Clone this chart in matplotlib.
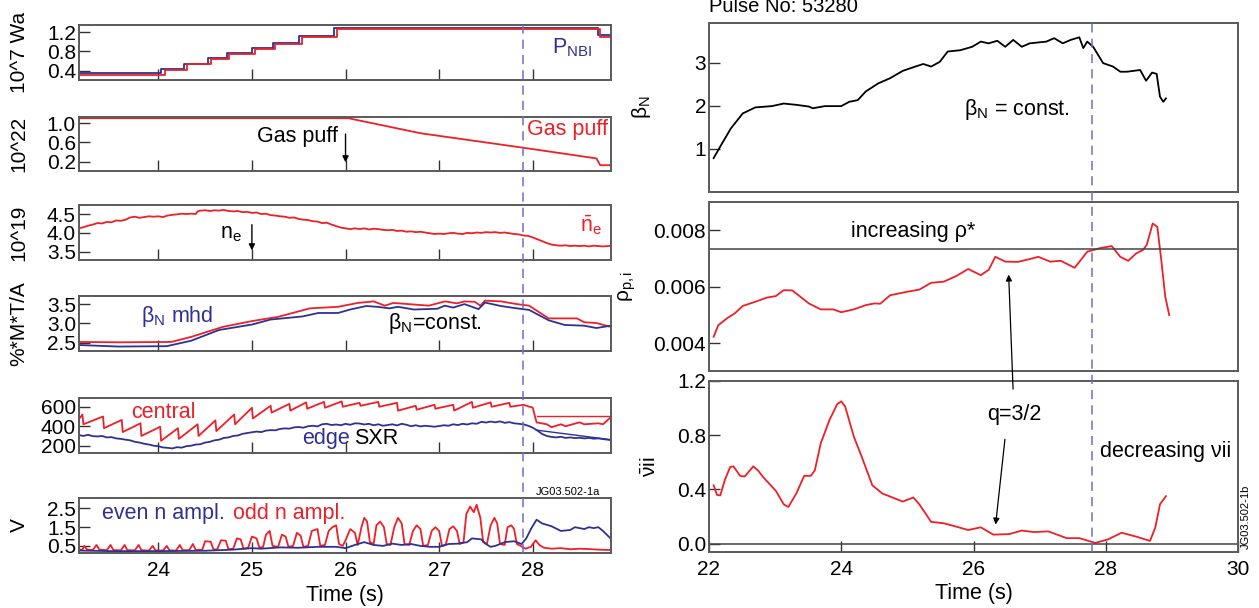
import matplotlib
matplotlib.use("Agg")
import matplotlib.pyplot as plt

plt.rcParams['font.family'] = ['Liberation Sans', 'DejaVu Sans']
plt.rcParams['mathtext.fontset'] = 'custom'
plt.rcParams['mathtext.rm'] = 'Liberation Sans'
plt.rcParams['mathtext.it'] = 'Liberation Sans:italic'

RED = '#ee1f26'
BLUE = '#2e3192'
DASH = '#6a70c8'
SPINE = '#5a5a5a'

# ---- left column: pulse 53280 time traces ----
# NBI power (10^7 W), step waveforms
pnbi_red_t = [23.15, 24.07, 24.31, 24.56, 24.76, 25.03, 25.25, 25.54, 25.91, 28.72, 28.83]
pnbi_red = [0.31, 0.41, 0.53, 0.64, 0.75, 0.85, 0.95, 1.10, 1.27, 1.10, 1.10]
pnbi_blue_t = [23.15, 24.03, 24.28, 24.53, 24.73, 25.00, 25.22, 25.50, 25.88, 28.70, 28.83]
pnbi_blue = [0.35, 0.44, 0.55, 0.66, 0.77, 0.87, 0.97, 1.12, 1.28, 1.13, 1.13]

# gas puff rate (10^22)
gas_t = [23.15, 26.03, 26.8, 27.9, 28.68, 28.72, 28.83]
gas = [1.10, 1.10, 0.79, 0.49, 0.27, 0.13, 0.13]

# line averaged density (10^19)
ne = [(23.15, 4.12), (23.2, 4.15), (23.25, 4.19), (23.3, 4.22), (23.35, 4.26), (23.4, 4.25),
      (23.45, 4.29), (23.5, 4.28), (23.55, 4.33), (23.6, 4.32), (23.65, 4.35), (23.7, 4.41),
      (23.75, 4.43), (23.8, 4.40), (23.85, 4.42), (23.9, 4.44), (23.95, 4.43), (24.0, 4.44),
      (24.05, 4.42), (24.1, 4.46), (24.15, 4.48), (24.2, 4.49), (24.25, 4.51), (24.3, 4.50),
      (24.35, 4.51), (24.4, 4.50), (24.42, 4.57), (24.45, 4.59), (24.5, 4.60), (24.55, 4.58),
      (24.6, 4.60), (24.65, 4.59), (24.7, 4.61), (24.75, 4.58), (24.8, 4.57), (24.85, 4.58),
      (24.9, 4.55), (24.95, 4.56), (25.0, 4.53), (25.05, 4.54), (25.1, 4.50), (25.15, 4.51),
      (25.2, 4.47), (25.25, 4.46), (25.3, 4.44), (25.35, 4.43), (25.4, 4.40), (25.45, 4.41),
      (25.5, 4.37), (25.55, 4.35), (25.6, 4.34), (25.65, 4.31), (25.7, 4.30), (25.75, 4.26),
      (25.8, 4.27), (25.85, 4.22), (25.9, 4.18), (25.95, 4.14), (26.0, 4.12), (26.05, 4.10),
      (26.1, 4.12), (26.15, 4.10), (26.2, 4.12), (26.25, 4.09), (26.3, 4.11), (26.35, 4.10),
      (26.4, 4.08), (26.45, 4.07), (26.5, 4.08), (26.55, 4.05), (26.6, 4.06), (26.65, 4.03),
      (26.7, 4.04), (26.75, 4.02), (26.8, 4.03), (26.85, 4.01), (26.9, 3.99), (26.95, 3.97),
      (27.0, 3.98), (27.05, 3.97), (27.1, 3.99), (27.15, 4.00), (27.2, 3.98), (27.25, 3.97),
      (27.3, 4.00), (27.35, 3.99), (27.4, 4.01), (27.45, 4.00), (27.5, 4.02), (27.55, 4.01),
      (27.6, 4.02), (27.65, 4.00), (27.7, 4.01), (27.75, 3.99), (27.8, 3.97), (27.85, 3.96),
      (27.9, 3.93), (27.95, 3.92), (28.0, 3.88), (28.05, 3.83), (28.1, 3.78), (28.15, 3.73),
      (28.2, 3.69), (28.25, 3.67), (28.3, 3.66), (28.35, 3.67), (28.4, 3.65), (28.45, 3.66),
      (28.5, 3.65), (28.55, 3.66), (28.6, 3.64), (28.65, 3.66), (28.7, 3.65), (28.75, 3.64),
      (28.8, 3.65), (28.83, 3.66)]

# beta_N (%*m*T/MA), two reconstructions
bn_red = [(23.15, 2.52), (23.58, 2.51), (24.14, 2.52), (24.35, 2.65), (24.52, 2.78), (24.69, 2.91),
          (25.0, 3.06), (25.28, 3.17), (25.62, 3.39), (25.92, 3.43), (26.13, 3.53), (26.3, 3.57),
          (26.42, 3.46), (26.51, 3.53), (26.89, 3.46), (27.06, 3.57), (27.19, 3.52), (27.27, 3.57),
          (27.38, 3.56), (27.44, 3.46), (27.49, 3.59), (27.66, 3.57), (27.83, 3.50), (27.96, 3.46),
          (28.17, 3.13), (28.34, 3.13), (28.47, 3.13), (28.55, 3.03), (28.68, 3.01), (28.83, 2.91)]
bn_blue = [(23.15, 2.44), (23.58, 2.40), (24.09, 2.41), (24.35, 2.55), (24.65, 2.83), (25.0, 2.97),
           (25.2, 3.10), (25.54, 3.18), (25.71, 3.27), (25.92, 3.27), (26.05, 3.36), (26.22, 3.45),
           (26.34, 3.43), (26.47, 3.39), (26.56, 3.43), (26.73, 3.36), (26.98, 3.38), (27.06, 3.46),
           (27.15, 3.41), (27.27, 3.50), (27.42, 3.37), (27.49, 3.54), (27.66, 3.45), (27.83, 3.39),
           (27.96, 3.35), (28.17, 3.08), (28.34, 2.96), (28.55, 2.94), (28.68, 2.88), (28.83, 2.94)]

# soft X-ray, central chord (sawteeth) and edge chord
sxr_central = [(23.15, 470), (23.19, 520), (23.2, 420), (23.41, 500), (23.42, 380), (23.61, 465),
               (23.62, 340), (23.81, 430), (23.82, 300), (24.02, 395), (24.03, 250), (24.21, 380),
               (24.22, 270), (24.42, 420), (24.43, 300), (24.61, 460), (24.62, 350), (24.81, 520),
               (24.82, 420), (25.0, 590), (25.01, 480), (25.2, 610), (25.21, 540), (25.4, 630),
               (25.41, 560), (25.58, 645), (25.59, 580), (25.77, 650), (25.78, 590), (25.96, 655),
               (25.97, 600), (26.15, 640), (26.16, 610), (26.35, 650), (26.36, 600), (26.55, 640),
               (26.56, 560), (26.75, 610), (26.76, 570), (26.95, 620), (26.96, 580), (27.15, 620),
               (27.16, 560), (27.35, 650), (27.36, 590), (27.55, 645), (27.56, 600), (27.75, 640),
               (27.76, 600), (27.9, 620), (28.0, 590), (28.04, 440), (28.15, 420), (28.2, 390),
               (28.3, 420), (28.35, 400), (28.5, 440), (28.55, 420), (28.7, 430), (28.75, 420),
               (28.83, 490)]
sxr_edge = [(23.15, 310), (23.2, 300), (23.25, 312), (23.3, 298), (23.35, 295), (23.4, 300), (23.45, 285),
            (23.5, 288), (23.55, 275), (23.6, 270), (23.65, 262), (23.7, 255), (23.75, 240), (23.8, 232),
            (23.85, 220), (23.9, 212), (23.95, 200), (24.0, 195), (24.05, 182), (24.1, 178), (24.15, 172),
            (24.2, 185), (24.25, 180), (24.3, 195), (24.35, 200), (24.4, 212), (24.45, 215), (24.5, 232),
            (24.55, 240), (24.6, 255), (24.65, 262), (24.7, 280), (24.75, 285), (24.8, 300), (24.85, 305),
            (24.9, 322), (24.95, 330), (25.0, 338), (25.05, 345), (25.1, 340), (25.15, 355), (25.2, 360),
            (25.25, 358), (25.3, 372), (25.35, 378), (25.4, 375), (25.45, 388), (25.5, 392), (25.55, 385),
            (25.6, 400), (25.65, 405), (25.7, 398), (25.75, 420), (25.8, 425), (25.85, 412), (25.9, 418),
            (25.95, 410), (26.0, 425), (26.05, 415), (26.1, 430), (26.15, 428), (26.2, 418), (26.25, 425),
            (26.3, 410), (26.35, 420), (26.4, 405), (26.45, 412), (26.5, 420), (26.55, 408), (26.6, 425),
            (26.65, 415), (26.7, 400), (26.75, 410), (26.8, 398), (26.85, 405), (26.9, 400), (26.95, 395),
            (27.0, 402), (27.05, 410), (27.1, 405), (27.15, 420), (27.2, 412), (27.25, 425), (27.3, 418),
            (27.35, 430), (27.4, 425), (27.45, 445), (27.5, 438), (27.55, 448), (27.6, 440), (27.65, 450),
            (27.7, 435), (27.75, 442), (27.8, 430), (27.85, 425), (27.9, 420), (27.95, 405), (28.0, 385),
            (28.05, 355), (28.1, 320), (28.15, 300), (28.2, 290), (28.25, 285), (28.3, 292), (28.35, 280),
            (28.4, 285), (28.45, 278), (28.5, 282), (28.55, 275), (28.6, 280), (28.65, 272), (28.7, 275),
            (28.75, 268), (28.8, 262), (28.83, 258)]
sxr_central_fit = [(28.04, 500), (28.83, 500)]
sxr_edge_fit = [(28.04, 360), (28.83, 262)]

# MHD mode amplitudes (V)
odd_n = [(23.15, 0.30), (23.19, 0.30), (23.21, 0.50), (23.24, 0.30), (23.3, 0.28), (23.34, 0.55),
         (23.37, 0.30), (23.45, 0.27), (23.49, 0.55), (23.52, 0.28), (23.6, 0.26), (23.64, 0.55),
         (23.67, 0.27), (23.75, 0.26), (23.79, 0.55), (23.82, 0.27), (23.9, 0.25), (23.94, 0.50),
         (23.97, 0.26), (24.05, 0.25), (24.09, 0.50), (24.12, 0.26), (24.19, 0.25), (24.23, 0.55),
         (24.26, 0.27), (24.33, 0.27), (24.37, 0.60), (24.4, 0.28), (24.47, 0.30), (24.5, 0.75),
         (24.56, 0.72), (24.59, 0.30), (24.63, 0.32), (24.67, 0.80), (24.72, 0.78), (24.75, 0.32),
         (24.8, 0.35), (24.84, 0.90), (24.88, 0.85), (24.91, 0.35), (24.96, 0.40), (25.0, 1.00),
         (25.05, 0.90), (25.08, 0.40), (25.12, 0.45), (25.15, 1.10), (25.19, 1.30), (25.22, 0.50),
         (25.28, 0.45), (25.32, 1.10), (25.36, 1.00), (25.39, 0.45), (25.44, 0.50), (25.48, 1.20),
         (25.52, 1.05), (25.55, 0.45), (25.6, 0.50), (25.64, 1.30), (25.7, 1.40), (25.73, 0.50),
         (25.78, 0.55), (25.82, 1.30), (25.86, 1.50), (25.9, 1.60), (25.93, 0.60), (25.97, 0.50),
         (26.0, 0.80), (26.05, 1.40), (26.1, 1.20), (26.13, 0.55), (26.17, 1.50), (26.2, 2.00),
         (26.23, 1.80), (26.26, 0.70), (26.3, 0.60), (26.33, 1.60), (26.37, 1.80), (26.41, 1.50),
         (26.44, 0.60), (26.48, 0.55), (26.52, 1.50), (26.56, 2.00), (26.6, 1.70), (26.63, 0.60),
         (26.68, 0.55), (26.72, 1.30), (26.76, 1.60), (26.8, 1.40), (26.83, 0.50), (26.88, 0.55),
         (26.92, 1.30), (26.96, 1.50), (27.0, 1.30), (27.03, 0.50), (27.07, 0.55), (27.11, 1.40),
         (27.15, 1.55), (27.19, 1.30), (27.22, 0.60), (27.26, 0.70), (27.29, 2.20), (27.33, 2.60),
         (27.37, 2.30), (27.4, 2.70), (27.44, 2.00), (27.47, 0.70), (27.51, 0.60), (27.55, 1.60),
         (27.59, 2.00), (27.62, 1.70), (27.65, 0.60), (27.7, 0.55), (27.73, 1.50), (27.77, 1.60),
         (27.8, 1.40), (27.83, 0.60), (27.87, 0.50), (27.92, 0.35), (27.98, 0.45), (28.03, 0.80),
         (28.07, 0.55), (28.12, 0.40), (28.2, 0.35), (28.3, 0.38), (28.4, 0.32), (28.5, 0.35),
         (28.6, 0.33), (28.7, 0.30), (28.83, 0.28)]
even_n = [(23.15, 0.25), (23.5, 0.22), (24.0, 0.22), (24.5, 0.24), (24.8, 0.30), (25.0, 0.38),
          (25.1, 0.35), (25.3, 0.42), (25.5, 0.40), (25.7, 0.45), (25.9, 0.45), (26.0, 0.38),
          (26.1, 0.55), (26.2, 0.70), (26.3, 0.55), (26.4, 0.50), (26.5, 0.62), (26.6, 0.55),
          (26.7, 0.60), (26.8, 0.50), (26.9, 0.45), (27.0, 0.45), (27.1, 0.60), (27.2, 0.62),
          (27.3, 0.70), (27.35, 0.90), (27.45, 0.85), (27.5, 0.60), (27.55, 0.45), (27.6, 0.50),
          (27.7, 0.70), (27.8, 0.75), (27.88, 0.60), (27.93, 0.90), (27.98, 1.40), (28.04, 1.90),
          (28.1, 1.70), (28.2, 1.55), (28.3, 1.30), (28.4, 1.35), (28.45, 1.50), (28.55, 1.40),
          (28.6, 1.50), (28.65, 1.45), (28.7, 1.50), (28.75, 1.30), (28.83, 0.90)]

# ---- right column: dimensionless parameters ----
beta_n = [(22.07, 0.78), (22.17, 1.05), (22.33, 1.47), (22.51, 1.82), (22.70, 1.96), (22.95, 1.99),
          (23.13, 2.05), (23.32, 2.02), (23.51, 1.98), (23.57, 1.94), (23.75, 1.99), (24.0, 1.99),
          (24.12, 2.09), (24.25, 2.13), (24.37, 2.33), (24.56, 2.52), (24.74, 2.64), (24.93, 2.81),
          (25.12, 2.91), (25.24, 2.97), (25.36, 2.91), (25.49, 3.02), (25.61, 3.26), (25.80, 3.29),
          (25.98, 3.37), (26.11, 3.49), (26.23, 3.45), (26.36, 3.51), (26.48, 3.37), (26.60, 3.53),
          (26.73, 3.37), (26.85, 3.45), (27.10, 3.49), (27.22, 3.57), (27.35, 3.45), (27.47, 3.53),
          (27.60, 3.59), (27.66, 3.34), (27.72, 3.49), (27.81, 3.37), (27.96, 2.99), (28.11, 2.91),
          (28.22, 2.79), (28.32, 2.79), (28.52, 2.83), (28.61, 2.58), (28.70, 2.77), (28.77, 2.74),
          (28.82, 2.21), (28.87, 2.09), (28.91, 2.17)]
rho_p = [(22.07, 0.00423), (22.14, 0.00464), (22.27, 0.00488), (22.39, 0.00506), (22.51, 0.00532),
         (22.70, 0.00547), (22.88, 0.00562), (23.01, 0.00567), (23.13, 0.00588), (23.26, 0.00587),
         (23.38, 0.00565), (23.51, 0.00541), (23.69, 0.00520), (23.88, 0.00520), (24.0, 0.00510),
         (24.19, 0.00520), (24.37, 0.00535), (24.50, 0.00541), (24.59, 0.00540), (24.74, 0.00570),
         (24.99, 0.00582), (25.18, 0.00590), (25.36, 0.00614), (25.55, 0.00618), (25.74, 0.00638),
         (25.92, 0.00663), (26.11, 0.00641), (26.23, 0.00660), (26.33, 0.00706), (26.48, 0.00689),
         (26.67, 0.00688), (26.85, 0.00698), (26.98, 0.00706), (27.16, 0.00689), (27.32, 0.00692),
         (27.53, 0.00667), (27.72, 0.00724), (27.90, 0.00736), (28.09, 0.00744), (28.22, 0.00706),
         (28.34, 0.00692), (28.46, 0.00718), (28.56, 0.00730), (28.62, 0.00748), (28.71, 0.00824),
         (28.78, 0.00812), (28.84, 0.00694), (28.90, 0.00565), (28.96, 0.00500)]
rho_ref = 0.00734
nu_ii = [(22.07, 0.43), (22.12, 0.36), (22.17, 0.355), (22.24, 0.47), (22.32, 0.565), (22.37, 0.57),
         (22.47, 0.50), (22.54, 0.495), (22.67, 0.57), (22.74, 0.54), (22.82, 0.49), (23.01, 0.39),
         (23.13, 0.29), (23.2, 0.27), (23.32, 0.37), (23.44, 0.50), (23.54, 0.50), (23.6, 0.54),
         (23.69, 0.74), (23.82, 0.91), (23.94, 1.03), (24.0, 1.05), (24.06, 1.01), (24.19, 0.79),
         (24.31, 0.64), (24.47, 0.43), (24.62, 0.37), (24.93, 0.31), (25.09, 0.34), (25.18, 0.29),
         (25.36, 0.16), (25.55, 0.15), (25.74, 0.125), (25.92, 0.10), (26.11, 0.12), (26.3, 0.066),
         (26.54, 0.07), (26.73, 0.096), (26.91, 0.085), (27.13, 0.09), (27.41, 0.04), (27.6, 0.04),
         (27.84, 0.005), (28.03, 0.03), (28.24, 0.08), (28.47, 0.05), (28.6, 0.03), (28.67, 0.02),
         (28.75, 0.12), (28.82, 0.29), (28.91, 0.35)]

t_mark_left = 27.90
t_mark_right = 27.79

W, H = 1259, 608
fig = plt.figure(figsize=(W / 100, H / 100), dpi=100)


def box(x0, y0, x1, y1):
    return [x0 / W, 1 - y1 / H, (x1 - x0) / W, (y1 - y0) / H]


def style(ax):
    for s in ax.spines.values():
        s.set_color(SPINE)
        s.set_linewidth(1.4)
    ax.tick_params(direction='in', length=8, width=1.0, color='#333333', labelsize=15, pad=2)
    ax.tick_params(axis='x', pad=6)


LX0, LX1 = 78.7, 610.5
left_rows = [(25, 80), (117, 171), (205, 260), (296, 351), (398, 453), (498, 553)]
left_ylims = [(0.21, 1.345), (0.01, 1.125), (3.28, 4.74), (2.285, 3.71), (125, 690), (0.12, 3.06)]
left_yticks = [[0.4, 0.8, 1.2], [0.2, 0.6, 1.0], [3.5, 4.0, 4.5], [2.5, 3.0, 3.5], [200, 400, 600],
               [0.5, 1.5, 2.5]]
left_yfmt = ['%.1f', '%.1f', '%.1f', '%.1f', '%d', '%.1f']
left_ylabels = ['10^7 Wa', '10^22', '10^19', '%*M*T/A', '', 'V']

lax = []
for i, (y0, y1) in enumerate(left_rows):
    ax = fig.add_axes(box(LX0, y0, LX1, y1))
    style(ax)
    ax.set_xlim(23.15, 28.83)
    ax.set_ylim(*left_ylims[i])
    ax.set_yticks(left_yticks[i])
    ax.set_yticklabels([left_yfmt[i] % v for v in left_yticks[i]])
    ax.set_xticks([24, 25, 26, 27, 28])
    if i < 5:
        ax.tick_params(axis='x', labelbottom=False)
    ax.set_ylabel(left_ylabels[i], fontsize=15)
    ax.yaxis.set_label_coords(-0.094, 0.5)
    lax.append(ax)

lw = 1.3
fs = 15.5
ax = lax[0]
ax.plot(pnbi_blue_t, pnbi_blue, color=BLUE, lw=lw, drawstyle='steps-post')
ax.plot(pnbi_red_t, pnbi_red, color=RED, lw=lw, drawstyle='steps-post')
ax.text(28.2, 0.87, r'$\mathregular{P_{NBI}}$', color=BLUE, fontsize=fs, va='center')

ax = lax[1]
ax.plot(gas_t, gas, color=RED, lw=lw)
ax.text(25.05, 0.72, 'Gas puff', fontsize=fs, va='center')
ax.annotate('', xy=(26.0, 0.13), xytext=(26.0, 0.83),
            arrowprops=dict(arrowstyle='-|>', color='black', lw=1, mutation_scale=9))
ax.text(27.94, 0.86, 'Gas puff', color=RED, fontsize=fs, va='center')

ax = lax[2]
t, v = zip(*ne)
ax.plot(t, v, color=RED, lw=lw)
ax.text(28.5, 4.2, r'$\mathregular{\bar{n}_e}$', color=RED, fontsize=fs, va='center')
ax.text(24.66, 3.99, r'$\mathregular{n_e}$', fontsize=fs, va='center')
ax.annotate('', xy=(25.0, 3.46), xytext=(25.0, 4.29),
            arrowprops=dict(arrowstyle='-|>', color='black', lw=1, mutation_scale=9))

ax = lax[3]
t, v = zip(*bn_red)
ax.plot(t, v, color=RED, lw=lw)
t, v = zip(*bn_blue)
ax.plot(t, v, color=BLUE, lw=lw)
ax.text(23.82, 3.17, r'$\mathregular{\beta_N}$ mhd', color=BLUE, fontsize=fs, va='center')
ax.text(26.45, 3.0, r'$\mathregular{\beta_N}$=const.', fontsize=fs, va='center')

ax = lax[4]
t, v = zip(*sxr_central)
ax.plot(t, v, color=RED, lw=lw)
t, v = zip(*sxr_central_fit)
ax.plot(t, v, color=RED, lw=1.0)
t, v = zip(*sxr_edge)
ax.plot(t, v, color=BLUE, lw=lw)
t, v = zip(*sxr_edge_fit)
ax.plot(t, v, color=BLUE, lw=1.0)
ax.text(23.71, 540, 'central', color=RED, fontsize=fs, va='center')
ax.text(25.54, 274, 'edge', color=BLUE, fontsize=fs, va='center')
ax.text(26.09, 274, 'SXR', fontsize=fs, va='center')

ax = lax[5]
t, v = zip(*odd_n)
ax.plot(t, v, color=RED, lw=lw)
t, v = zip(*even_n)
ax.plot(t, v, color=BLUE, lw=lw)
ax.text(23.4, 2.24, 'even n ampl.', color=BLUE, fontsize=fs, va='center')
ax.text(24.8, 2.24, 'odd n ampl.', color=RED, fontsize=fs, va='center')
ax.set_xlabel('Time (s)', fontsize=fs, labelpad=3)

fig.text(536 / W, 1 - 491.7 / H, 'JG03.502-1a', fontsize=8, va='center')

# dashed marker running through the whole left column
ov = fig.add_axes(box(LX0, 25, LX1, 553), facecolor='none')
ov.set_xlim(23.15, 28.83)
ov.axis('off')
ov.axvline(t_mark_left, color=DASH, lw=1.1, ls=(0, (6, 4)))

# ---- right column axes ----
RX0, RX1 = 709, 1238
r1 = fig.add_axes(box(RX0, 22.7, RX1, 191.7))
r2 = fig.add_axes(box(RX0, 201.7, RX1, 371))
r3 = fig.add_axes(box(RX0, 381, RX1, 551.7))
for ax in (r1, r2, r3):
    style(ax)
    ax.set_xlim(22, 30)
for ax in (r1, r2):
    ax.tick_params(axis='x', bottom=False, labelbottom=False)

r1.set_ylim(0, 3.93)
r1.set_yticks([1, 2, 3])
t, v = zip(*beta_n)
r1.plot(t, v, color='black', lw=1.3)
r1.text(25.86, 1.9, r'$\mathregular{\beta_N}$ = const.', fontsize=fs, va='center')
r1.set_ylabel(r'$\mathregular{\beta_N}$', fontsize=15)
r1.yaxis.set_label_coords(-0.105, 0.5)

r2.set_ylim(0.00302, 0.00901)
r2.set_yticks([0.004, 0.006, 0.008])
r2.set_yticklabels(['0.004', '0.006', '0.008'])
t, v = zip(*rho_p)
r2.plot(t, v, color=RED, lw=1.3)
r2.axhline(rho_ref, color='#444444', lw=1.1)
r2.text(24.15, 0.00795, 'increasing ρ*', fontsize=fs, va='center')
r2.set_ylabel(r'$\mathregular{\rho_{p,i}}$', fontsize=15)
r2.yaxis.set_label_coords(-0.135, 0.5)

r3.set_ylim(-0.06, 1.2)
r3.set_yticks([0.0, 0.4, 0.8, 1.2])
r3.set_yticklabels(['0.0', '0.4', '0.8', '1.2'])
r3.set_xticks([22, 24, 26, 28, 30])
t, v = zip(*nu_ii)
r3.plot(t, v, color=RED, lw=1.3)
r3.axhline(0.0, color='#444444', lw=1.1)
r3.text(27.92, 0.68, 'decreasing νii', fontsize=fs, va='center')
r3.text(26.2, 0.95, 'q=3/2', fontsize=fs, va='center')
r3.set_ylabel(r'$\mathregular{\bar{\nu}ii}$', fontsize=15)
r3.yaxis.set_label_coords(-0.095, 0.5)
r3.set_xlabel('Time (s)', fontsize=fs, labelpad=3)

# arrows from the q=3/2 label to the rho and nu traces
r3.annotate('', xy=(26.53, 0.00653), xycoords=r2.transData, xytext=(26.6, 1.12),
            textcoords=r3.transData, annotation_clip=False,
            arrowprops=dict(arrowstyle='-|>', color='black', lw=0.9, mutation_scale=9))
r3.annotate('', xy=(26.33, 0.12), xytext=(26.48, 0.79),
            arrowprops=dict(arrowstyle='-|>', color='black', lw=0.9, mutation_scale=9))

ovr = fig.add_axes(box(RX0, 22.7, RX1, 551.7), facecolor='none')
ovr.set_xlim(22, 30)
ovr.axis('off')
ovr.axvline(t_mark_right, color=DASH, lw=1.1, ls=(0, (6, 4)))

fig.text(RX0 / W, 1 - 7 / H, 'Pulse No: 53280', fontsize=14.5, va='center')
fig.text(1246 / W, 1 - 517 / H, 'JG03.502-1b', fontsize=8, rotation=90, va='center', ha='center')

fig.savefig('out.png', dpi=100)
